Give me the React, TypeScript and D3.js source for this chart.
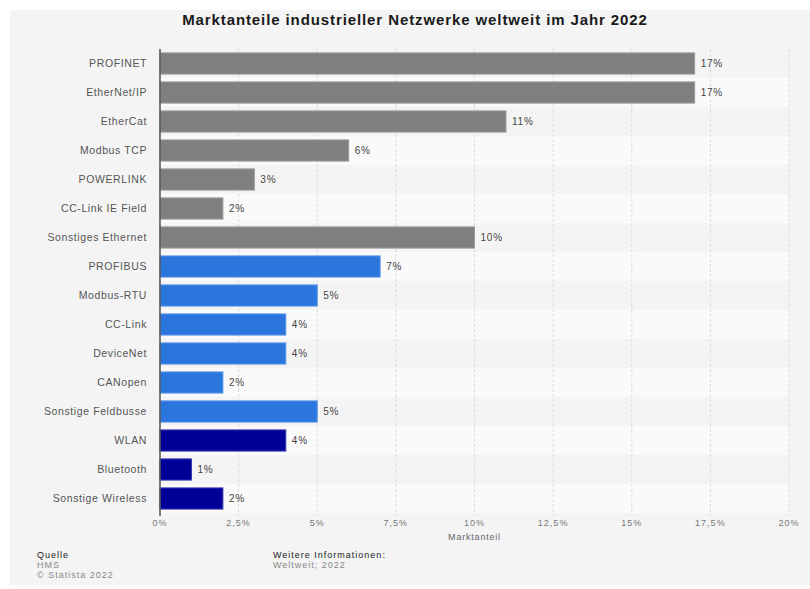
import React from "react";
import * as d3 from "d3";

const categories = [
  "PROFINET",
  "EtherNet/IP",
  "EtherCat",
  "Modbus TCP",
  "POWERLINK",
  "CC-Link IE Field",
  "Sonstiges Ethernet",
  "PROFIBUS",
  "Modbus-RTU",
  "CC-Link",
  "DeviceNet",
  "CANopen",
  "Sonstige Feldbusse",
  "WLAN",
  "Bluetooth",
  "Sonstige Wireless",
];
const values = [17, 17, 11, 6, 3, 2, 10, 7, 5, 4, 4, 2, 5, 4, 1, 2];
const groups = [
  "ethernet", "ethernet", "ethernet", "ethernet", "ethernet", "ethernet", "ethernet",
  "feldbus", "feldbus", "feldbus", "feldbus", "feldbus", "feldbus",
  "wireless", "wireless", "wireless",
];
const xTicks = [0, 2.5, 5, 7.5, 10, 12.5, 15, 17.5, 20];

const groupColors: Record<string, string> = {
  ethernet: "#7f7f7f",
  feldbus: "#2a76dd",
  wireless: "#000099",
};
const groupStroke: Record<string, string> = {
  ethernet: "#9a9a9a",
  feldbus: "#5b96e6",
  wireless: "#3a3ab0",
};

const W = 810;
const H = 589;
const FONT = "'Liberation Sans', Arial, Helvetica, sans-serif";

export default function App() {
  const left = 160;
  const right = 789;
  const top = 49;
  const bottom = 513;
  const x = d3.scaleLinear().domain([0, 20]).range([left, right]);
  const y = d3
    .scaleBand<string>()
    .domain(categories)
    .range([top, bottom])
    .paddingInner(0.27)
    .paddingOuter(0.135);
  const step = y.step();
  const fmt = (v: number) => String(v).replace(".", ",") + "%";

  return (
    <svg
      width={W}
      height={H}
      style={{ position: "absolute", left: 0, top: 0, fontFamily: FONT }}
    >
      <rect x={0} y={0} width={W} height={H} fill="#ffffff" />
      <rect x={10} y={10} width={W - 10} height={575} fill="#f4f4f4" />
      <text
        x={415}
        y={25}
        textAnchor="middle"
        fontSize={15}
        fontWeight="bold"
        letterSpacing={0.9}
        fill="#1a1a1a"
      >
        Marktanteile industrieller Netzwerke weltweit im Jahr 2022
      </text>

      {categories.map((c, i) => (
        <rect
          key={"bg" + c}
          x={left}
          y={(y(c) as number) - (step - y.bandwidth()) / 2}
          width={right - left}
          height={step}
          fill={i % 2 === 0 ? "#f4f4f4" : "#fafafa"}
        />
      ))}

      {xTicks.map((t) => (
        <line
          key={"g" + t}
          x1={x(t)}
          x2={x(t)}
          y1={top}
          y2={bottom + 3}
          stroke="#dcdcdc"
          strokeWidth={1}
          strokeDasharray="3,2"
        />
      ))}

      {categories.map((c, i) => (
        <g key={c}>
          <rect
            x={x(0)}
            y={y(c)}
            width={x(values[i]) - x(0)}
            height={y.bandwidth()}
            fill={groupColors[groups[i]]}
            stroke={groupStroke[groups[i]]}
            strokeWidth={1}
          />
          <text
            x={x(values[i]) + 6}
            y={(y(c) as number) + y.bandwidth() / 2}
            dy="0.35em"
            fontSize={10}
            letterSpacing={0.8}
            fill="#444"
          >
            {fmt(values[i])}
          </text>
          <text
            x={147}
            y={(y(c) as number) + y.bandwidth() / 2}
            dy="0.35em"
            textAnchor="end"
            fontSize={10.5}
            letterSpacing={0.6}
            fill="#555"
          >
            {c}
          </text>
        </g>
      ))}

      <line
        x1={left}
        x2={left}
        y1={top}
        y2={bottom + 3}
        stroke="#555"
        strokeWidth={1.5}
      />

      {xTicks.map((t) => (
        <text
          key={"t" + t}
          x={x(t)}
          y={526}
          textAnchor="middle"
          fontSize={9}
          letterSpacing={1}
          fill="#777"
        >
          {fmt(t)}
        </text>
      ))}
      <text
        x={(left + right) / 2}
        y={540}
        textAnchor="middle"
        fontSize={9}
        letterSpacing={0.8}
        fill="#666"
      >
        Marktanteil
      </text>

      <text x={37} y={558} fontSize={9} letterSpacing={1} fill="#222">Quelle</text>
      <text x={37} y={568} fontSize={9} letterSpacing={1} fill="#888">HMS</text>
      <text x={37} y={578} fontSize={9} letterSpacing={1} fill="#888">© Statista 2022</text>
      <text x={273} y={558} fontSize={9} letterSpacing={1} fill="#222">Weitere Informationen:</text>
      <text x={273} y={568} fontSize={9} letterSpacing={1} fill="#888">Weltweit; 2022</text>
    </svg>
  );
}
